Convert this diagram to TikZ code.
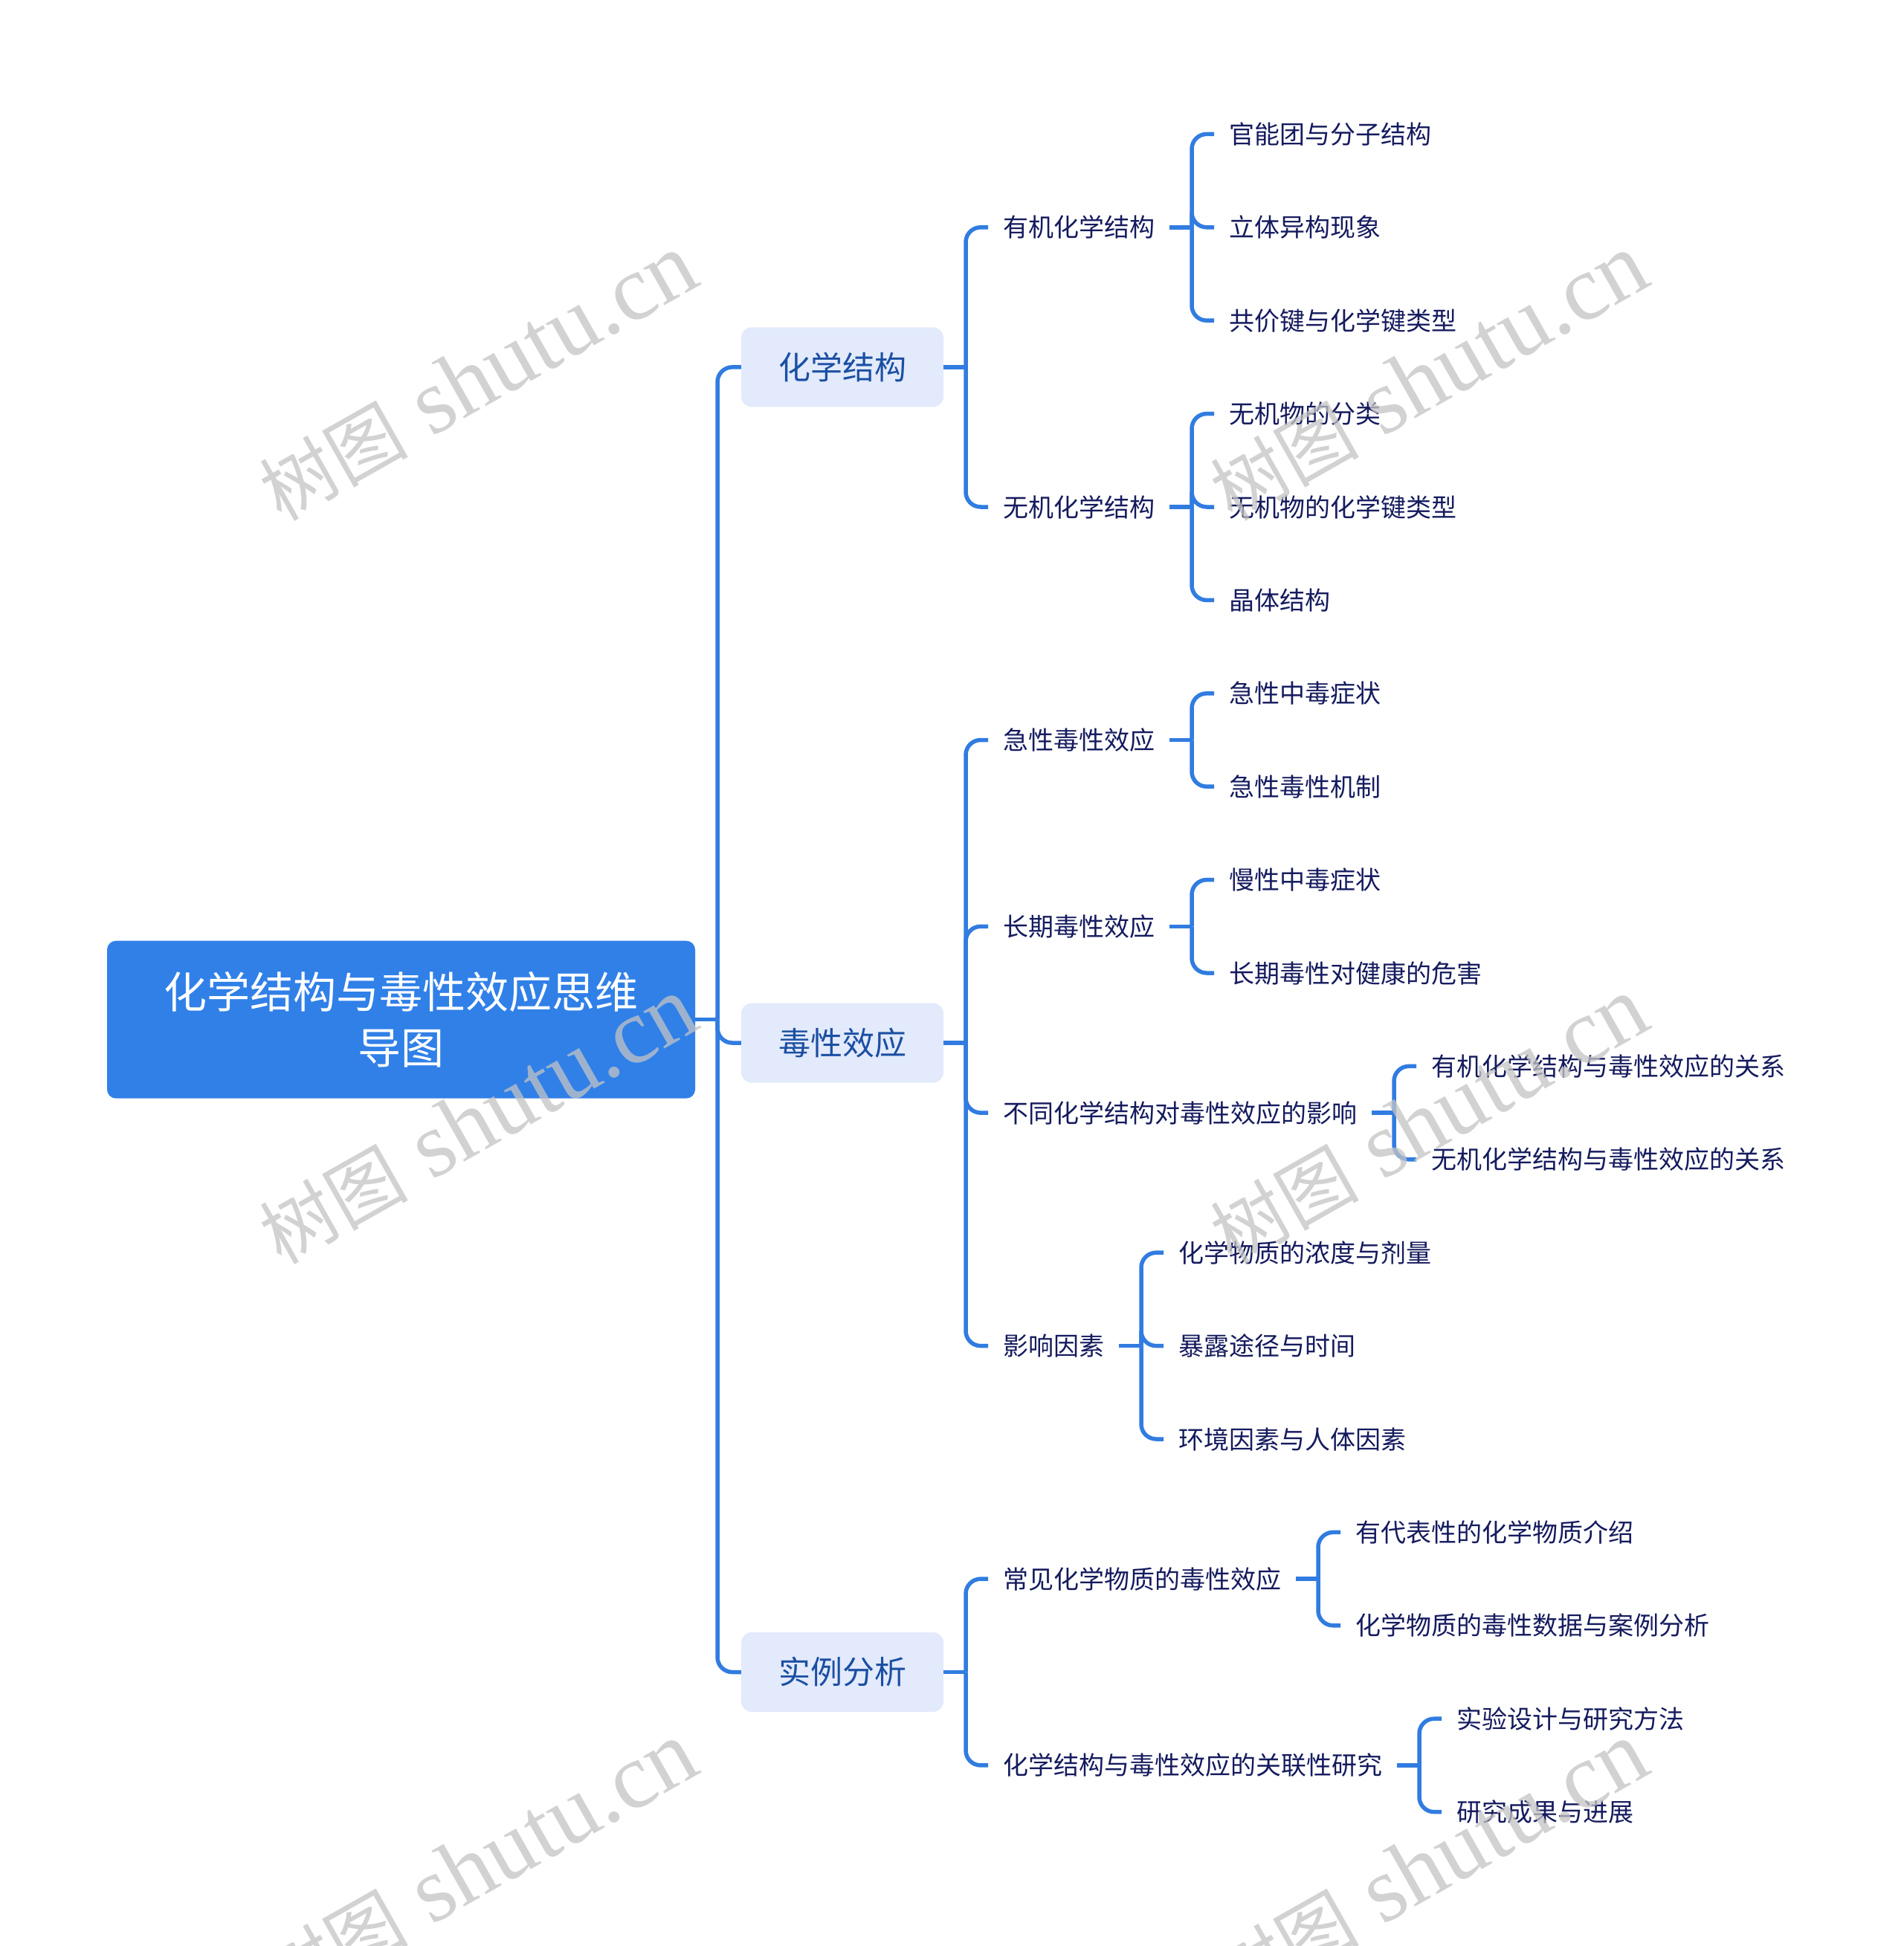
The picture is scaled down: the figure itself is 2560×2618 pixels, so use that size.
\documentclass[tikz,border=0pt]{standalone}
\usepackage{fontspec}
\setmainfont{Noto Sans CJK SC}
\newfontfamily\cjkwm{Noto Sans CJK SC}
\newfontfamily\wmlat{Liberation Serif}
\usetikzlibrary{calc}
\definecolor{linec}{HTML}{317CE0}
\definecolor{rootc}{HTML}{3080E8}
\definecolor{lonefill}{HTML}{E2EAFB}
\definecolor{lonetext}{HTML}{1B4FA3}
\definecolor{leaftext}{HTML}{151B5E}
\definecolor{wmc}{HTML}{C4C4C4}
\tikzset{
  rootbox/.style={fill=rootc, rounded corners=12pt, minimum width=791pt, minimum height=212pt,
    text=white, font=\fontsize{58}{75}\selectfont, align=center, inner sep=0pt},
  lonebox/.style={fill=lonefill, rounded corners=14pt, minimum width=272pt, minimum height=107pt,
    text=lonetext, font=\fontsize{43}{50}\selectfont, inner sep=0pt, text height=37.8pt, text depth=5.2pt},
  leaf/.style={anchor=west, text=leaftext, font=\fontsize{34}{40}\selectfont,
    inner xsep=20pt, inner ysep=4pt, text height=30pt, text depth=4pt},
  conn/.style={draw=linec, line width=5.5pt, rounded corners=20pt},
  wmark/.style={text=wmc, opacity=0.75, rotate=29.5, inner sep=0pt}
}
\newcommand{\wmtext}{{\cjkwm\fontsize{100}{110}\selectfont 树图}{\wmlat\fontsize{125}{130}\selectfont\ shutu.cn}}
\begin{document}
\begin{tikzpicture}[x=1pt, y=-1pt]
\fill[white] (0,0) rectangle (2560,2618);
\useasboundingbox (0,0) rectangle (2560,2618);

% root
\node[rootbox] (root) at (539.5,1371.7) {化学结构与毒性效应思维\\导图};
\coordinate (jR) at (965,1371.7);

% level 1
\node[lonebox] (c1) at (1133,493.9) {化学结构};
\node[lonebox] (c2) at (1133,1403) {毒性效应};
\node[lonebox] (c3) at (1133,2249.5) {实例分析};
\coordinate (j1) at (1299,493.9);
\coordinate (j2) at (1299,1403);
\coordinate (j3) at (1299,2249.5);

% level 2
\node[leaf] (a1) at (1329,305.8) {有机化学结构};
\node[leaf] (a2) at (1329,682.0) {无机化学结构};
\node[leaf] (b1) at (1329,995.5) {急性毒性效应};
\node[leaf] (b2) at (1329,1246.3) {长期毒性效应};
\node[leaf] (b3) at (1329,1497.1) {不同化学结构对毒性效应的影响};
\node[leaf] (b4) at (1329,1810.6) {影响因素};
\node[leaf] (d1) at (1329,2124.1) {常见化学物质的毒性效应};
\node[leaf] (d2) at (1329,2374.9) {化学结构与毒性效应的关联性研究};

\coordinate (ja1) at (1603,305.8);
\coordinate (ja2) at (1603,682.0);
\coordinate (jb1) at (1603,995.5);
\coordinate (jb2) at (1603,1246.3);
\coordinate (jb3) at (1875,1497.1);
\coordinate (jb4) at (1535,1810.6);
\coordinate (jd1) at (1773,2124.1);
\coordinate (jd2) at (1909,2374.9);

% leaves
\node[leaf] (l0) at (1633,180.4) {官能团与分子结构};
\node[leaf] (l1) at (1633,305.8) {立体异构现象};
\node[leaf] (l2) at (1633,431.2) {共价键与化学键类型};
\node[leaf] (l3) at (1633,556.6) {无机物的分类};
\node[leaf] (l4) at (1633,682.0) {无机物的化学键类型};
\node[leaf] (l5) at (1633,807.4) {晶体结构};
\node[leaf] (l6) at (1633,932.8) {急性中毒症状};
\node[leaf] (l7) at (1633,1058.2) {急性毒性机制};
\node[leaf] (l8) at (1633,1183.6) {慢性中毒症状};
\node[leaf] (l9) at (1633,1309.0) {长期毒性对健康的危害};
\node[leaf] (l10) at (1905,1434.4) {有机化学结构与毒性效应的关系};
\node[leaf] (l11) at (1905,1559.8) {无机化学结构与毒性效应的关系};
\node[leaf] (l12) at (1565,1685.2) {化学物质的浓度与剂量};
\node[leaf] (l13) at (1565,1810.6) {暴露途径与时间};
\node[leaf] (l14) at (1565,1936.0) {环境因素与人体因素};
\node[leaf] (l15) at (1803,2061.4) {有代表性的化学物质介绍};
\node[leaf] (l16) at (1803,2186.8) {化学物质的毒性数据与案例分析};
\node[leaf] (l17) at (1939,2312.2) {实验设计与研究方法};
\node[leaf] (l18) at (1939,2437.6) {研究成果与进展};

% connectors
\draw[conn] (root.east) -- (jR);
\foreach \c in {c1,c2,c3} \draw[conn] (jR) |- (\c.west);

\draw[conn] (c1.east) -- (j1);
\foreach \c in {a1,a2} \draw[conn] (j1) |- (\c.west);
\draw[conn] (c2.east) -- (j2);
\foreach \c in {b1,b2,b3,b4} \draw[conn] (j2) |- (\c.west);
\draw[conn] (c3.east) -- (j3);
\foreach \c in {d1,d2} \draw[conn] (j3) |- (\c.west);

\draw[conn] (a1.east) -- (ja1);
\foreach \c in {l0,l1,l2} \draw[conn] (ja1) |- (\c.west);
\draw[conn] (a2.east) -- (ja2);
\foreach \c in {l3,l4,l5} \draw[conn] (ja2) |- (\c.west);
\draw[conn] (b1.east) -- (jb1);
\foreach \c in {l6,l7} \draw[conn] (jb1) |- (\c.west);
\draw[conn] (b2.east) -- (jb2);
\foreach \c in {l8,l9} \draw[conn] (jb2) |- (\c.west);
\draw[conn] (b3.east) -- (jb3);
\foreach \c in {l10,l11} \draw[conn] (jb3) |- (\c.west);
\draw[conn] (b4.east) -- (jb4);
\foreach \c in {l12,l13,l14} \draw[conn] (jb4) |- (\c.west);
\draw[conn] (d1.east) -- (jd1);
\foreach \c in {l15,l16} \draw[conn] (jd1) |- (\c.west);
\draw[conn] (d2.east) -- (jd2);
\foreach \c in {l17,l18} \draw[conn] (jd2) |- (\c.west);

% watermarks
\node[wmark] (w1) at (643,508) {\wmtext};
\node[wmark] (w2) at (643,1508) {\wmtext};
\node[wmark] (w3) at (643,2510) {\wmtext};
\node[wmark] (w4) at (1922,508) {\wmtext};
\node[wmark] (w5) at (1922,1508) {\wmtext};
\node[wmark] (w6) at (1922,2510) {\wmtext};
\end{tikzpicture}
\end{document}
